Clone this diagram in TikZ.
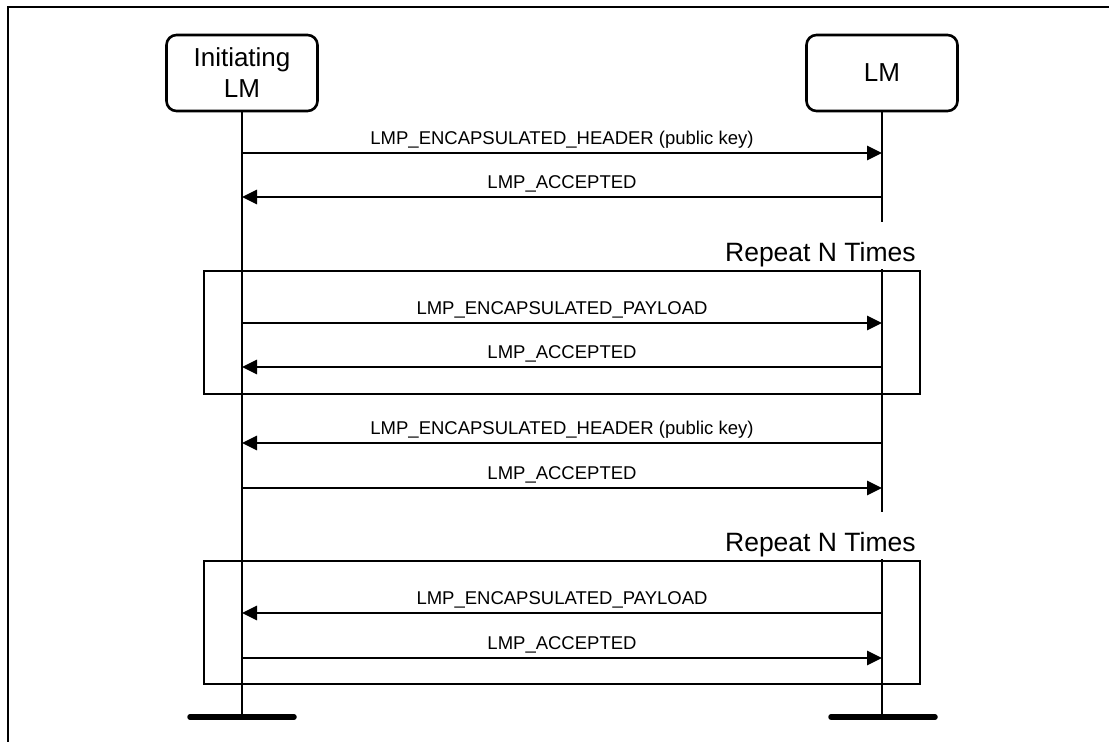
\documentclass[tikz,border=0pt]{standalone}
\usepackage{fontspec}
\setmainfont{Liberation Sans}
\usetikzlibrary{arrows.meta}
\begin{document}
\begin{tikzpicture}[x=1pt,y=-1pt,
  lmbox/.style={draw, line width=2.6pt, rounded corners=10pt, minimum width=151pt, minimum height=76pt, align=center, font=\fontsize{26}{31}\selectfont, inner sep=0pt},
  life/.style={line width=2.7pt},
  msg/.style={line width=2.7pt, -{Triangle[length=15pt,width=14pt]}},
  lbl/.style={font=\fontsize{18.5}{20}\selectfont, anchor=base, yshift=8.5pt},
  repbox/.style={draw, line width=1.6pt, minimum width=716pt, minimum height=123pt, inner sep=0pt},
  reptxt/.style={font=\fontsize{26.5}{28}\selectfont, anchor=base east, inner sep=0pt},
  endbar/.style={line width=5.5pt, line cap=round},
  frame/.style={line width=2.6pt}]
\useasboundingbox (0,0) rectangle (1109,742);
% frame
\coordinate (f1) at (8,742);
\coordinate (f2) at (8,7);
\coordinate (f3) at (1109,7);
\draw[frame] (f1) -- (f2) -- (f3);

% participants
\node[lmbox] (A) at (242,73) {Initiating\\LM};
\node[lmbox] (B) at (882,73) {LM};

% repeat boxes
\node[repbox] (R1) at (562,332.5) {};
\node[reptxt] (R1t) at ([xshift=-5pt,yshift=9pt]R1.north east) {Repeat N Times};
\node[repbox] (R2) at (562,622.5) {};
\node[reptxt] (R2t) at ([xshift=-5pt,yshift=9pt]R2.north east) {Repeat N Times};

% lifelines
\coordinate (Aend) at (242,717);
\coordinate (B1e) at (882,222);
\coordinate (B2s) at (882,269);
\coordinate (B2e) at (882,512);
\coordinate (B3s) at (882,559);
\coordinate (Bend) at (882,717);
\draw[life] (A.south) -- (Aend);
\draw[life] (B.south) -- (B1e);
\draw[life] (B2s) -- (B2e);
\draw[life] (B3s) -- (Bend);

% end bars
\coordinate (Abl) at (190,717);
\coordinate (Abr) at (294,717);
\coordinate (Bbl) at (831,717);
\coordinate (Bbr) at (935,717);
\draw[endbar] (Abl) -- (Abr);
\draw[endbar] (Bbl) -- (Bbr);

% messages
\foreach \y/\n in {153/1,197/2,323/3,367/4,443/5,488/6,613/7,658/8}{
  \coordinate (a\n) at (242,\y);
  \coordinate (b\n) at (882,\y);
}
\draw[msg] (a1) -- node[lbl] {LMP\_ENCAPSULATED\_HEADER (public key)} (b1);
\draw[msg] (b2) -- node[lbl] {LMP\_ACCEPTED} (a2);
\draw[msg] (a3) -- node[lbl] {LMP\_ENCAPSULATED\_PAYLOAD} (b3);
\draw[msg] (b4) -- node[lbl] {LMP\_ACCEPTED} (a4);
\draw[msg] (b5) -- node[lbl] {LMP\_ENCAPSULATED\_HEADER (public key)} (a5);
\draw[msg] (a6) -- node[lbl] {LMP\_ACCEPTED} (b6);
\draw[msg] (b7) -- node[lbl] {LMP\_ENCAPSULATED\_PAYLOAD} (a7);
\draw[msg] (a8) -- node[lbl] {LMP\_ACCEPTED} (b8);
\end{tikzpicture}
\end{document}
